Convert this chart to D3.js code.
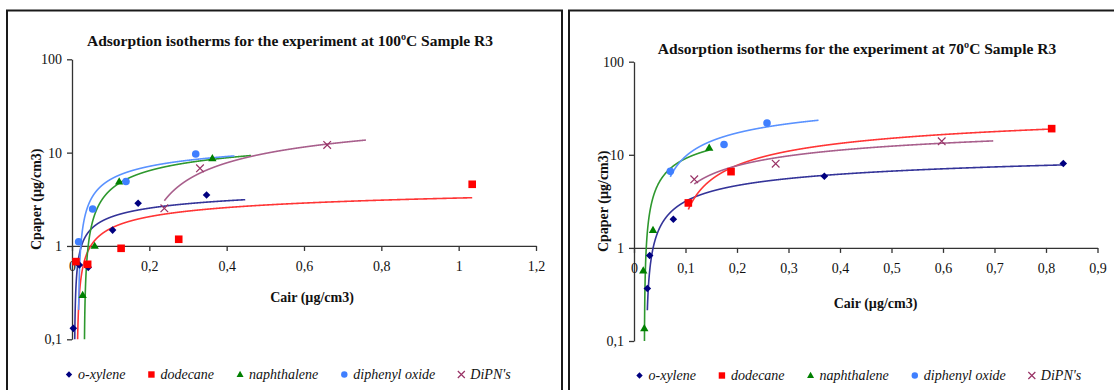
<!DOCTYPE html>
<html><head><meta charset="utf-8">
<script src="https://cdn.jsdelivr.net/npm/d3@7"></script>
<style>
body{margin:0;background:#fff;}
svg{display:block;}
svg text{font-family:"Liberation Serif","Times New Roman",Times,serif;}
</style>
</head><body>
<svg id="c" width="1114" height="390"></svg>
<script>
// ---------- data ----------
const seriesNames = ["o-xylene", "dodecane", "naphthalene", "diphenyl oxide", "DiPN's"];
const yTickValues = [0.1, 1, 10, 100];
const xTicks100 = [0, 0.2, 0.4, 0.6, 0.8, 1, 1.2];
const xTicks70 = [0, 0.1, 0.2, 0.3, 0.4, 0.5, 0.6, 0.7, 0.8, 0.9];

// experiment at 100ºC  [Cair, Cpaper]
const r100Oxylene     = [[0.0034, 0.131], [0.019, 0.626], [0.042, 0.59], [0.105, 1.48], [0.171, 2.87], [0.348, 3.52]];
const r100Dodecane    = [[0.0103, 0.68], [0.0405, 0.636], [0.127, 0.944], [0.276, 1.18], [1.035, 4.58]];
const r100Naphthalene = [[0.0276, 0.298], [0.0586, 1.0], [0.122, 4.89], [0.363, 8.7]];
const r100Diphenyl    = [[0.0172, 1.11], [0.0534, 2.49], [0.1396, 4.91], [0.32, 9.68]];
const r100DiPN        = [[0.2388, 2.53], [0.331, 6.8], [0.66, 12.1]];
const r100Forward     = [0.1, 0, 0.1, 0.1, 0.1];   // trendline forward forecast

// experiment at 70ºC
const r70Oxylene      = [[0.0259, 0.367], [0.0304, 0.83], [0.0764, 2.03], [0.3696, 5.88], [0.8336, 8.05]];
const r70Dodecane     = [[0.1055, 3.04], [0.1884, 6.59], [0.811, 19.1]];
const r70Naphthalene  = [[0.018, 0.57], [0.020, 0.137], [0.0369, 1.55], [0.146, 11.9]];
const r70Diphenyl     = [[0.0705, 6.64], [0.1748, 12.9], [0.2583, 21.9]];
const r70DiPN         = [[0.117, 5.45], [0.2751, 8.03], [0.5975, 13.96]];
const r70Forward      = [0, 0, 0, 0.1, 0.1];

// ---------- styles ----------
const FONT = '"Liberation Serif","Times New Roman",Times,serif';
const markerColors = ["#000080", "#ff0000", "#008000", "#3f7fff", "#993366"];
const lineColors   = ["#343499", "#ff3535", "#2e982e", "#5a92ff", "#a85f8c"];

const svg = d3.select("#c");
const fmt = d => String(d).replace(".", ",");

function logFit(pts) {
  const lx = pts.map(p => Math.log(p[0])), ys = pts.map(p => p[1]);
  const mx = d3.mean(lx), my = d3.mean(ys);
  let sxy = 0, sxx = 0;
  lx.forEach((v, i) => { sxy += (v - mx) * (ys[i] - my); sxx += (v - mx) * (v - mx); });
  const a = sxy / sxx;
  return { a, b: my - a * mx };
}

function marker(g, i, cx, cy, s, col) {
  if (i === 0) {
    g.append("path").attr("d", `M${cx},${cy - s}L${cx + s},${cy}L${cx},${cy + s}L${cx - s},${cy}Z`).attr("fill", col);
  } else if (i === 1) {
    g.append("rect").attr("x", cx - s).attr("y", cy - s).attr("width", 2 * s).attr("height", 2 * s).attr("fill", col);
  } else if (i === 2) {
    const h = s * 1.9;
    g.append("path").attr("d", `M${cx},${cy - h * 0.6}L${cx + s * 1.1},${cy + h * 0.4}L${cx - s * 1.1},${cy + h * 0.4}Z`).attr("fill", col);
  } else if (i === 3) {
    g.append("circle").attr("cx", cx).attr("cy", cy).attr("r", s).attr("fill", col);
  } else {
    g.append("path").attr("d", `M${cx - s},${cy - s}L${cx + s},${cy + s}M${cx - s},${cy + s}L${cx + s},${cy - s}`)
      .attr("stroke", col).attr("stroke-width", 1.2).attr("fill", "none");
  }
}

function txt(sel) { return sel.attr("font-family", FONT).attr("fill", "#111"); }

function drawChart(cfg) {
  const { L, id } = cfg;
  // frame
  svg.append("rect").attr("x", L.frame[0]).attr("y", L.frame[1]).attr("width", L.frame[2]).attr("height", L.frame[3])
    .attr("fill", "#fff").attr("stroke", "#1a1a1a").attr("stroke-width", 2);

  const x = d3.scaleLinear().domain(cfg.xDomain).range([L.left, L.right]);
  const y = d3.scaleLog().domain([0.1, 100]).range([L.bottom, L.top]);

  // title
  txt(svg.append("text")).attr("x", L.titleX).attr("y", L.titleY).attr("text-anchor", "middle")
    .attr("font-weight", "bold").attr("font-size", 15.5).text(cfg.title);

  // axes
  const ya = svg.append("g").attr("transform", `translate(${L.left},0)`)
    .call(d3.axisLeft(y).tickValues(yTickValues).tickFormat(fmt).tickSize(5).tickSizeOuter(0).tickPadding(5));
  const xa = svg.append("g").attr("transform", `translate(0,${y(1)})`)
    .call(d3.axisBottom(x).tickValues(cfg.xTicks).tickFormat(fmt).tickSize(5).tickSizeOuter(0).tickPadding(10));
  [ya, xa].forEach(a => {
    a.attr("font-family", FONT);
    a.selectAll("path,line").attr("stroke", "#333").attr("stroke-width", 1.3);
    txt(a.selectAll("text")).attr("font-size", 14);
  });

  // axis titles
  txt(svg.append("text")).attr("x", L.xTitleX).attr("y", L.xTitleY).attr("text-anchor", "middle")
    .attr("font-weight", "bold").attr("font-size", 14).text("Cair (µg/cm3)");
  txt(svg.append("text")).attr("transform", `translate(${L.yTitleX},${(L.top + L.bottom) / 2}) rotate(-90)`)
    .attr("text-anchor", "middle").attr("font-weight", "bold").attr("font-size", 14).text("Cpaper (µg/cm3)");

  // clip
  svg.append("clipPath").attr("id", id).append("rect")
    .attr("x", L.left).attr("y", L.top).attr("width", L.right - L.left).attr("height", L.bottom - L.top);
  const plot = svg.append("g").attr("clip-path", `url(#${id})`);

  const line = d3.line().defined(d => d[1] > 0).x(d => x(d[0])).y(d => y(Math.max(d[1], 1e-4)));
  cfg.series.forEach((pts, i) => {
    const { a, b } = logFit(pts);
    const x0 = d3.min(pts, p => p[0]), x1 = d3.max(pts, p => p[0]) + cfg.forward[i];
    const N = 4000;
    const curve = d3.range(N + 1).map(k => { const xv = x0 + (x1 - x0) * k / N; return [xv, a * Math.log(xv) + b]; });
    plot.append("path").attr("d", line(curve)).attr("fill", "none").attr("stroke", lineColors[i]).attr("stroke-width", 1.6);
  });
  const mk = svg.append("g");
  cfg.series.forEach((pts, i) => {
    pts.forEach(p => marker(mk, i, x(p[0]), y(p[1]), i === 0 ? 3.8 : 3.8, markerColors[i]));
  });

  // legend
  const lg = svg.append("g");
  let cx = L.legendX;
  seriesNames.forEach((name, i) => {
    marker(lg, i, cx, L.legendY - 4.5, i === 4 ? 3.5 : 3.2, markerColors[i]);
    const t = txt(lg.append("text")).attr("x", cx + 9).attr("y", L.legendY).attr("font-style", "italic")
      .attr("font-size", 14).text(name);
    cx += 9 + t.node().getComputedTextLength() + 26;
  });
}

drawChart({
  id: "clip100",
  title: "Adsorption isotherms for the experiment at 100ºC Sample R3",
  xDomain: [0, 1.2], xTicks: xTicks100,
  series: [r100Oxylene, r100Dodecane, r100Naphthalene, r100Diphenyl, r100DiPN],
  forward: r100Forward,
  L: { frame: [7, 10.5, 555, 400], left: 72, right: 536, top: 59.3, bottom: 339.3,
       titleX: 290, titleY: 46, xTitleX: 312, xTitleY: 301.5, yTitleX: 41,
       legendX: 69, legendY: 379 }
});
drawChart({
  id: "clip70",
  title: "Adsorption isotherms for the experiment at 70ºC Sample R3",
  xDomain: [0, 0.9], xTicks: xTicks70,
  series: [r70Oxylene, r70Dodecane, r70Naphthalene, r70Diphenyl, r70DiPN],
  forward: r70Forward,
  L: { frame: [569, 10.5, 560, 400], left: 634, right: 1097.5, top: 61.7, bottom: 341,
       titleX: 857, titleY: 53.5, xTitleX: 875.5, xTitleY: 308, yTitleX: 608,
       legendX: 639.5, legendY: 380 }
});
</script>
</body></html>
